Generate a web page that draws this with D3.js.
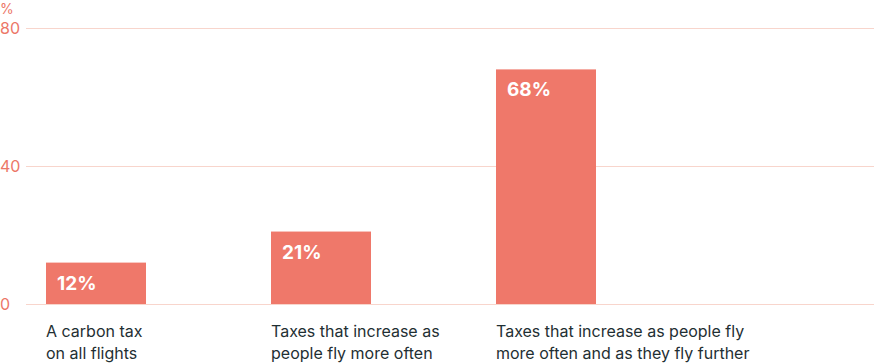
<!DOCTYPE html>
<html>
<head>
<meta charset="utf-8">
<script src="https://cdn.jsdelivr.net/npm/d3@7"></script>
<style>
  body { margin: 0; background: #fff; }
  svg { display: block; font-family: "Inter", "Roboto", sans-serif; }
</style>
</head>
<body>
<script>
// data
const categories = ["A carbon tax|on all flights", "Taxes that increase as|people fly more often", "Taxes that increase as people fly|more often and as they fly further"];
const values = [12, 21, 68];
const yTicks = [0, 40, 80];

const width = 874, height = 363;
const svg = d3.select("body").append("svg")
    .attr("width", width)
    .attr("height", height);

const y = d3.scaleLinear()
    .domain([0, 80])
    .range([304, 28]);

const x = d3.scaleBand()
    .domain(categories)
    .range([46, 596])
    .paddingInner(125 / 225)
    .paddingOuter(0)
    .align(0);

// gridlines
svg.append("g")
    .selectAll("line")
    .data(yTicks)
    .join("line")
    .attr("x1", 26)
    .attr("x2", width)
    .attr("y1", (d) => y(d) + 0.5)
    .attr("y2", (d) => y(d) + 0.5)
    .style("stroke", "#f8d5cc")
    .style("stroke-width", 1);

// tick labels
svg.append("g")
    .selectAll("text")
    .data(yTicks)
    .join("text")
    .attr("x", 0)
    .attr("y", (d) => y(d))
    .attr("dy", "0.35em")
    .style("fill", "#ec7768")
    .style("font-size", "16px")
    .text((d) => d);

svg.append("text")
    .attr("x", 0)
    .attr("y", 14)
    .style("fill", "#ec7768")
    .style("font-size", "14px")
    .text("%");

// bars
svg.append("g")
    .selectAll("rect")
    .data(values)
    .join("rect")
    .attr("x", (d, i) => x(categories[i]))
    .attr("y", (d) => y(d))
    .attr("width", x.bandwidth())
    .attr("height", (d) => y(0) - y(d))
    .style("fill", "#ef786a");

// value labels
svg.append("g")
    .selectAll("text")
    .data(values)
    .join("text")
    .attr("x", (d, i) => x(categories[i]) + 11)
    .attr("y", (d) => y(d) + 27)
    .style("fill", "#fff")
    .style("font-size", "19px")
    .style("font-weight", "bold")
    .text((d) => d + "%");

// category labels
categories.forEach((c, i) => {
    const t = svg.append("text")
        .attr("x", x(c))
        .attr("y", 337)
        .style("fill", "#1f2f33")
        .style("font-size", "16px");
    c.split("|").forEach((line, j) => {
        t.append("tspan")
            .attr("x", x(c))
            .attr("dy", j === 0 ? 0 : 22)
            .text(line);
    });
});
</script>
</body>
</html>
